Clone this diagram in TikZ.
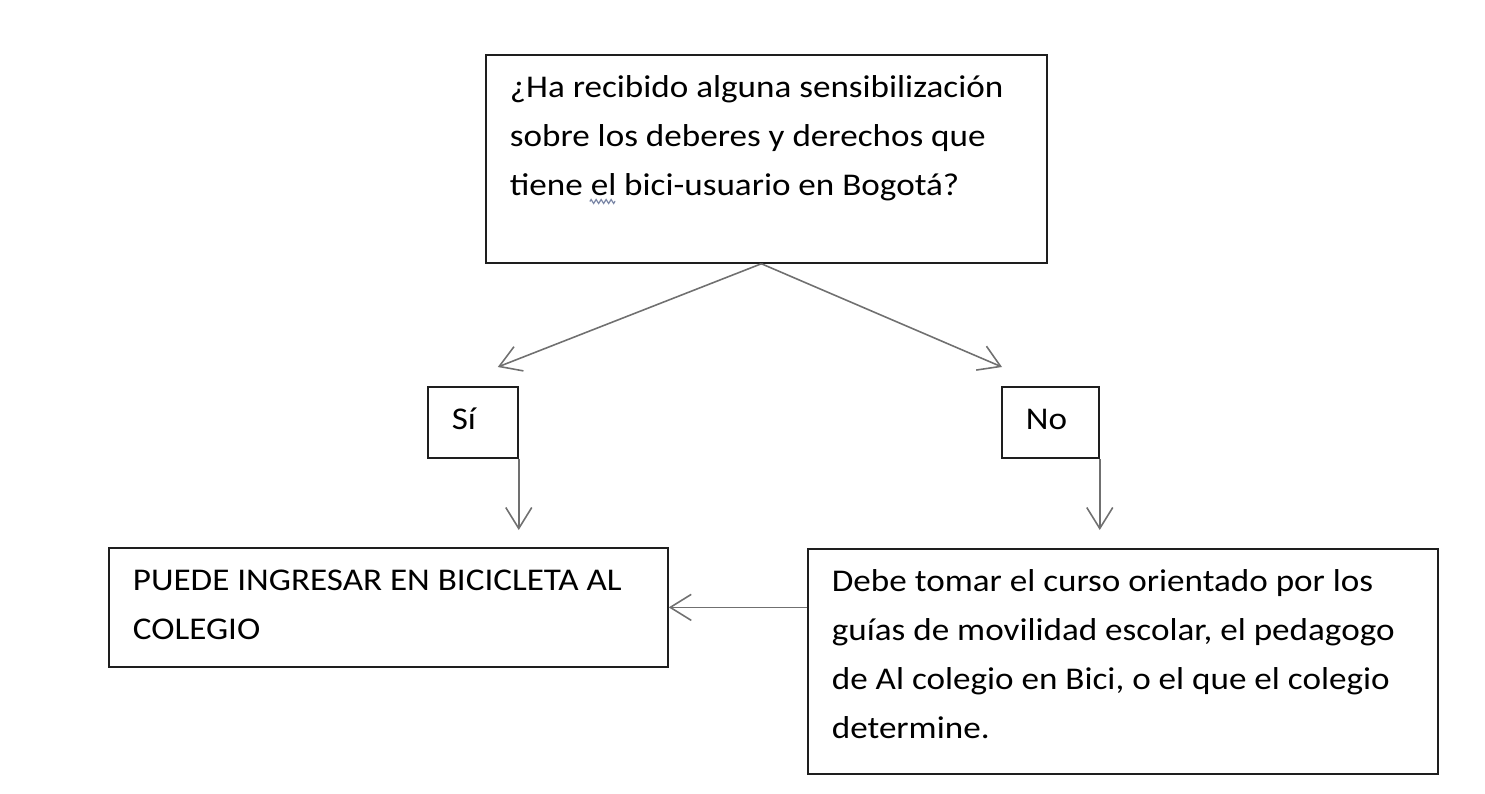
\documentclass[tikz,border=0pt]{standalone}
\usepackage{fontspec}
\setmainfont{Carlito}[FakeStretch=1.11]
\usepackage{xcolor}
\usetikzlibrary{arrows.meta,calc,decorations.pathmorphing}
\definecolor{gris}{HTML}{707070}
\definecolor{borde}{HTML}{1E1E1E}
\definecolor{onda}{HTML}{7A86A6}
\newcommand{\caja}[3]{\parbox[c][#2][t]{#1}{\raggedright\strut #3}}
\newlength\antesel
\newlength\anchoel

\begin{document}
\settowidth{\antesel}{\fontsize{18}{27.9}\selectfont tiene }%
\settowidth{\anchoel}{\fontsize{18}{27.9}\selectfont el}%
\begin{tikzpicture}[font=\fontsize{18}{27.9}\selectfont,
      e/.style={draw=borde, line width=1pt, anchor=north west,
                inner xsep=0.48cm, inner ysep=0.17cm},
      t/.style={draw=gris, line width=0.9pt,
                -{Straight Barb[length=0.42cm,width=0.52cm]}}]

    \useasboundingbox (0,0) rectangle (29.7,-15.88);

    \node[e] (pregunta) at (9.70,-1.08) {\caja{10.26cm}{3.82cm}{%
      ¿Ha recibido alguna sensibilización\\
      sobre los deberes y derechos que\\
      tiene el bici-usuario en Bogotá?}};
    \node[e] (si) at (8.54,-7.72) {\caja{0.84cm}{1.08cm}{Sí}};
    \node[e] (no) at (20.02,-7.72) {\caja{0.98cm}{1.08cm}{No}};
    \node[e] (puede) at (2.16,-10.94) {\caja{10.22cm}{2.04cm}{%
      PUEDE INGRESAR EN BICICLETA AL\\
      COLEGIO}};
    \node[e] (curso) at (16.14,-10.96) {\caja{11.64cm}{4.16cm}{%
      Debe tomar el curso orientado por los\\
      guías de movilidad escolar, el pedagogo\\
      de Al colegio en Bici, o el que el colegio\\
      determine.}};

    % Subrayado ondulado bajo "el"
    \draw[onda, line width=0.7pt, decorate,
          decoration={zigzag, segment length=0.1cm, amplitude=0.04cm}]
      ($(pregunta.north west)+(0.48cm+\antesel,-2.95cm)$) -- ++(\anchoel,0);

    \coordinate (origen) at ($(pregunta.south)+(-0.1,0)$);
    \coordinate (psi) at ($(si.north east)+(-0.42,0.38)$);
    \coordinate (pno) at ($(no.north west)+(0.02,0.38)$);

    % Respuestas a la pregunta
    \draw[t] (origen) -- (psi);
    \draw[t] (origen) -- (pno);

    % De cada respuesta a lo que sigue
    \draw[t, shorten >=0.34cm] (si.south east) -- (si.south east |- puede.north);
    \draw[t, shorten >=0.36cm] (no.south east) -- (no.south east |- curso.north);
    \draw[t] (curso.west |- puede.east) -- (puede.east);
  \end{tikzpicture}
\end{document}
